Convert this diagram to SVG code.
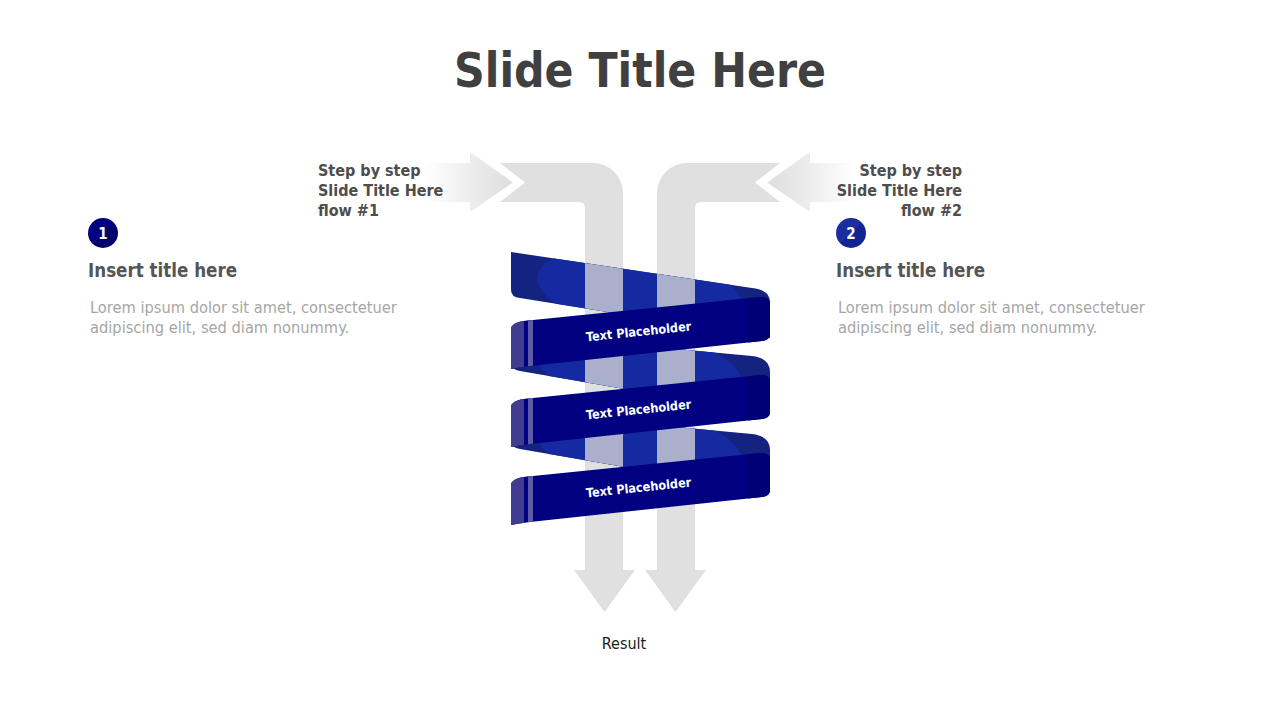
<svg xmlns="http://www.w3.org/2000/svg" xmlns:xlink="http://www.w3.org/1999/xlink" width="1280" height="720" viewBox="0 0 1280 720">
<style>
.f{font-family:"DejaVu Sans Condensed","DejaVu Sans","Liberation Sans",sans-serif}
.title{font-size:47.5px;font-weight:bold;fill:#404040}
.step{font-size:16px;font-weight:bold;fill:#4D4D4D}
.head{font-size:18.6px;font-weight:bold;fill:#555555}
.body{font-size:16.3px;fill:#A6A6A6}
.num{font-size:15px;font-weight:bold;fill:#FFFFFF}
.tp{font-size:12.6px;font-weight:bold;fill:#FFFFFF}
.res{font-size:16px;fill:#1A1A1A}
.gray{fill:#E0E0E0}
.bdark{fill:#13237F}
.blight{fill:#152AA0}
.lav{fill:#AAB0CC}
.front{fill:#000080}
</style>
<defs>
<linearGradient id="gl" gradientUnits="userSpaceOnUse" x1="425" y1="0" x2="505" y2="0">
<stop offset="0" stop-color="#FFFFFF"/><stop offset="1" stop-color="#E0E0E0"/>
</linearGradient>
<linearGradient id="gr" gradientUnits="userSpaceOnUse" x1="855" y1="0" x2="775" y2="0">
<stop offset="0" stop-color="#FFFFFF"/><stop offset="1" stop-color="#E0E0E0"/>
</linearGradient>
<linearGradient id="c1" x1="0" y1="0" x2="1" y2="1">
<stop offset="0.5" stop-color="#000080"/><stop offset="0.5" stop-color="#00006C"/>
</linearGradient>
<linearGradient id="c2" x1="0" y1="0" x2="1" y2="1">
<stop offset="0.5" stop-color="#1A2EA0"/><stop offset="0.5" stop-color="#122490"/>
</linearGradient>
<path id="bb1" d="M 511,252 L 752,288 Q 770,290 770,302 L 770,338 L 520,298 Q 511,297 511,290 Z"/>
<path id="bb2" d="M 515,334 L 752,356 Q 770,358 770,372 L 770,414 L 520,371 Q 511,370 511,362 Z"/>
<path id="fb" d="M 511,328 Q 513,321 533,320 L 760,297 Q 770,296 770,304 L 770,334 Q 770,340 762,341 L 530,366 Q 515,368 511,369 Z"/>
<clipPath id="cb1"><use xlink:href="#bb1"/></clipPath>
<clipPath id="cb2"><use xlink:href="#bb2"/></clipPath>
<clipPath id="cf"><use xlink:href="#fb"/></clipPath>
</defs>

<rect width="1280" height="720" fill="#FFFFFF"/>

<g id="title"><text class="f title" x="640" y="87" text-anchor="middle">Slide Title Here</text></g>

<g id="connectors">
<path fill="url(#gl)" d="M 405,163 L 470,163 L 470,152 L 513,182.5 L 470,212 L 470,202 L 405,202 Z"/>
<path fill="url(#gr)" d="M 875,163 L 810,163 L 810,152 L 767,182.5 L 810,212 L 810,202 L 875,202 Z"/>
<path class="gray" d="M 500,163 L 593,163 A 30,30 0 0 1 623,193 L 623,570 L 635,570 L 604.5,612 L 574,570 L 585,570 L 585,208 Q 585,202 579,202 L 500,202 L 525,182.5 Z"/>
<path class="gray" d="M 780,163 L 687,163 A 30,30 0 0 0 657,193 L 657,570 L 645,570 L 675.5,612 L 706,570 L 695,570 L 695,208 Q 695,202 701,202 L 780,202 L 755,182.5 Z"/>
</g>

<g id="ribbon">
<g id="back1">
<use xlink:href="#bb1" class="bdark"/>
<g clip-path="url(#cb1)">
<ellipse class="blight" cx="640" cy="292" rx="104" ry="40" transform="rotate(9 640 292)"/>
<rect class="lav" x="585" y="240" width="38" height="120"/>
<rect class="lav" x="657" y="240" width="38" height="120"/>
</g>
</g>
<g id="back2">
<use xlink:href="#bb2" class="bdark"/>
<g clip-path="url(#cb2)">
<ellipse class="blight" cx="640" cy="370" rx="104" ry="40" transform="rotate(9 640 370)"/>
<rect class="lav" x="585" y="320" width="38" height="120"/>
<rect class="lav" x="657" y="320" width="38" height="120"/>
</g>
</g>
<g id="back3" transform="translate(0,78)">
<use xlink:href="#bb2" class="bdark"/>
<g clip-path="url(#cb2)">
<ellipse class="blight" cx="640" cy="370" rx="104" ry="40" transform="rotate(9 640 370)"/>
<rect class="lav" x="585" y="320" width="38" height="120"/>
<rect class="lav" x="657" y="320" width="38" height="120"/>
</g>
</g>

<g id="band1">
<use xlink:href="#fb" class="front"/>
<g clip-path="url(#cf)">
<rect x="511" y="290" width="13" height="90" fill="#403C90"/>
<rect x="528" y="290" width="5" height="90" fill="#5D5BA3"/>
<rect x="748" y="290" width="22" height="60" fill="#000074"/>
</g>
<text class="f tp" transform="translate(639,336) rotate(-6)" text-anchor="middle">Text  Placeholder</text>
</g>
<g id="band2" transform="translate(0,78)">
<use xlink:href="#fb" class="front"/>
<g clip-path="url(#cf)">
<rect x="511" y="290" width="13" height="90" fill="#403C90"/>
<rect x="528" y="290" width="5" height="90" fill="#5D5BA3"/>
<rect x="748" y="290" width="22" height="60" fill="#000074"/>
</g>
<text class="f tp" transform="translate(639,336) rotate(-6)" text-anchor="middle">Text  Placeholder</text>
</g>
<g id="band3" transform="translate(0,156)">
<use xlink:href="#fb" class="front"/>
<g clip-path="url(#cf)">
<rect x="511" y="290" width="13" height="90" fill="#403C90"/>
<rect x="528" y="290" width="5" height="90" fill="#5D5BA3"/>
<rect x="748" y="290" width="22" height="60" fill="#000074"/>
</g>
<text class="f tp" transform="translate(639,336) rotate(-6)" text-anchor="middle">Text  Placeholder</text>
</g>
</g>

<g id="step1">
<text class="f step" x="318" y="176">Step by step</text>
<text class="f step" x="318" y="196">Slide Title Here</text>
<text class="f step" x="318" y="216">flow #1</text>
</g>
<g id="step2">
<text class="f step" x="962" y="176" text-anchor="end">Step by step</text>
<text class="f step" x="962" y="196" text-anchor="end">Slide Title Here</text>
<text class="f step" x="962" y="216" text-anchor="end">flow #2</text>
</g>

<g id="info1">
<circle cx="103" cy="233" r="15" fill="url(#c1)"/>
<text class="f num" x="103" y="238.5" text-anchor="middle">1</text>
<text class="f head" x="88" y="277">Insert title here</text>
<text class="f body" x="90" y="313">Lorem ipsum dolor sit amet, consectetuer</text>
<text class="f body" x="90" y="333">adipiscing elit, sed diam nonummy.</text>
</g>
<g id="info2">
<circle cx="851" cy="233" r="15" fill="url(#c2)"/>
<text class="f num" x="851" y="238.5" text-anchor="middle">2</text>
<text class="f head" x="836" y="277">Insert title here</text>
<text class="f body" x="838" y="313">Lorem ipsum dolor sit amet, consectetuer</text>
<text class="f body" x="838" y="333">adipiscing elit, sed diam nonummy.</text>
</g>

<g id="result"><text class="f res" x="624" y="649" text-anchor="middle">Result</text></g>
</svg>
